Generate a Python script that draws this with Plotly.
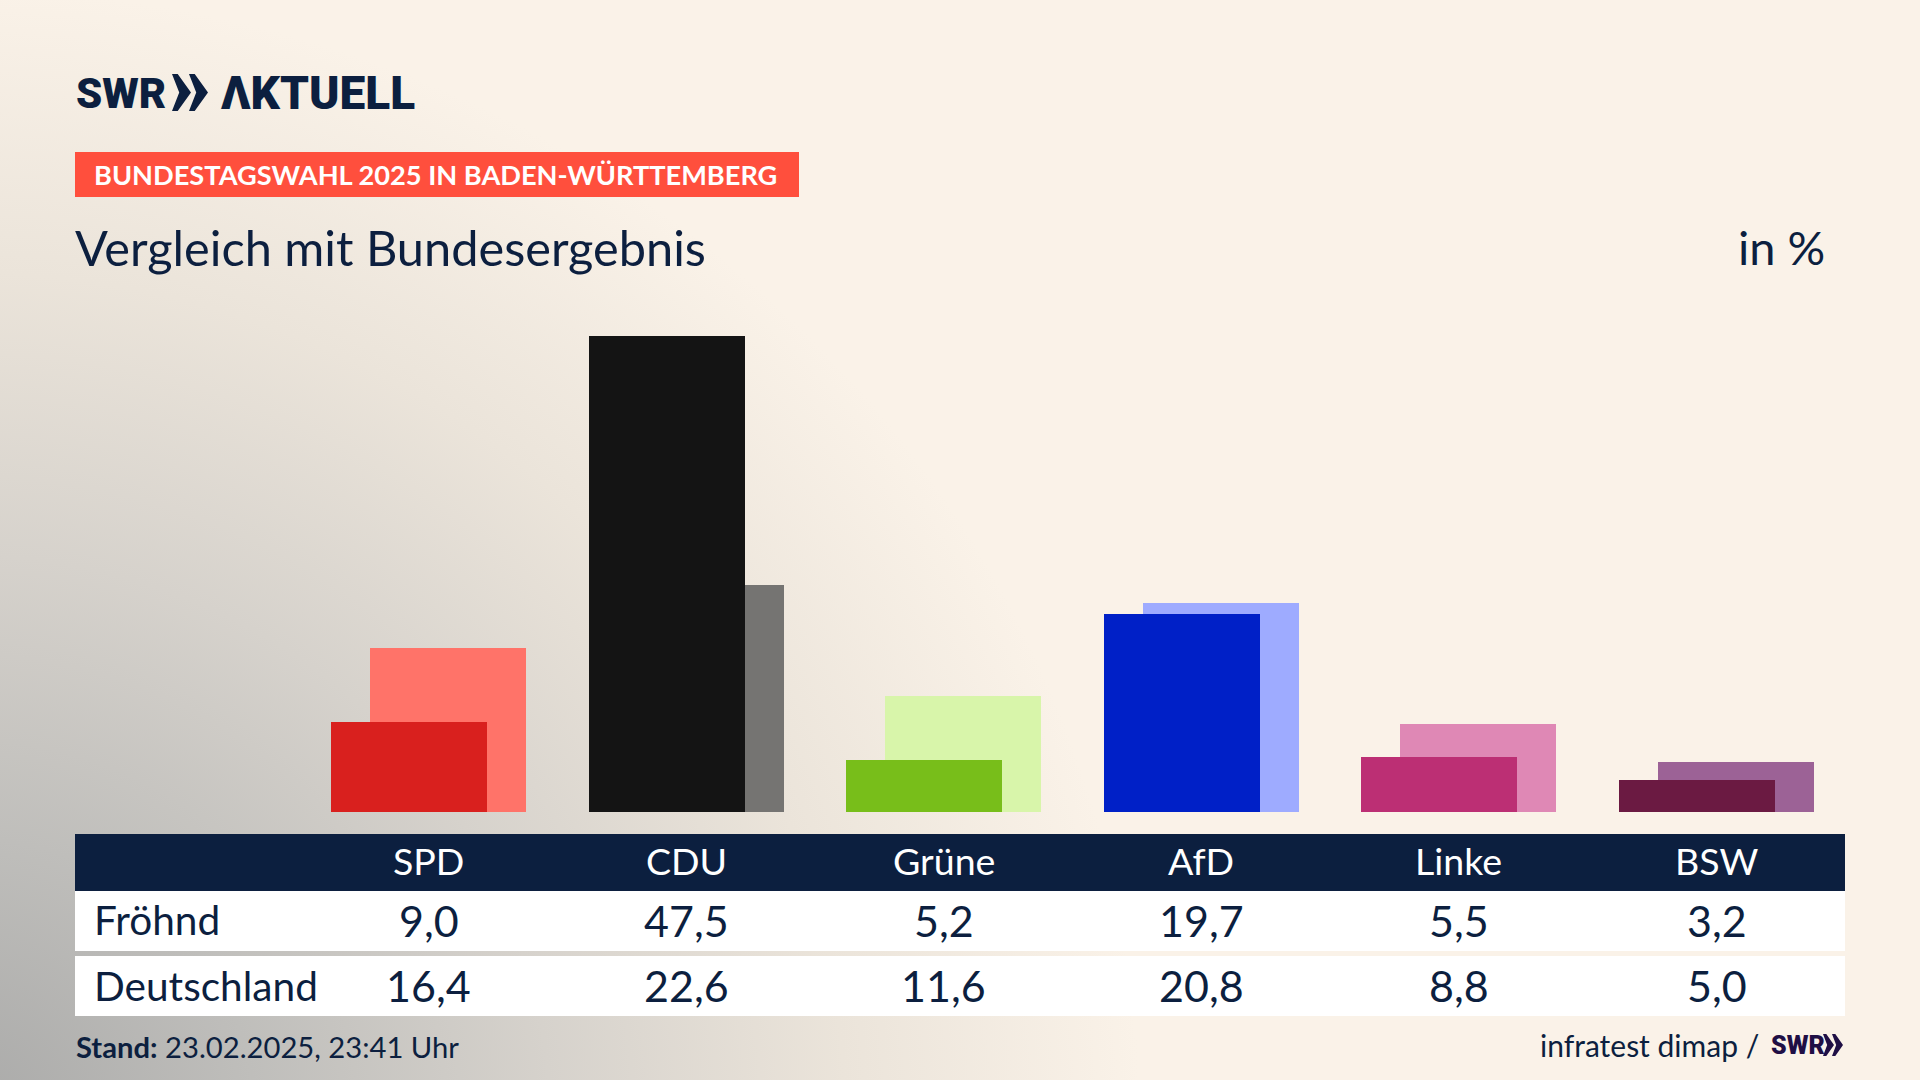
import base64
import plotly.graph_objects as go

# ---- data ----
parties = ["SPD", "CDU", "Grüne", "AfD", "Linke", "BSW"]
froehnd = [9.0, 47.5, 5.2, 19.7, 5.5, 3.2]
deutschland = [16.4, 22.6, 11.6, 20.8, 8.8, 5.0]
dark_colors = ["#D9201E", "#141414", "#78BE1A", "#0020C7", "#BC2F74", "#6B1A42"]
light_colors = ["#FF7369", "#757472", "#D8F5AA", "#9EABFF", "#DF88B5", "#9C6296"]
row_labels = ["Fröhnd", "Deutschland"]

W, H = 1920, 1080
NAVY = "#0C1F3F"
FONT = "Lato"
LOGO = "Roboto"

# pixel helpers for the frame of the page
def px(x): return x / W
def py(y): return 1 - y / H

# axis scale
X0, STEP = 428.5, 257.6          # px of first category, px per category
Y0, UNIT = 812, 10.03            # px of value 0, px per percent
BAR, SHIFT = 156 / STEP, 19.5 / STEP

svg = f'''<svg xmlns="http://www.w3.org/2000/svg" width="{W}" height="{H}">
<defs><radialGradient id="g" gradientUnits="userSpaceOnUse" cx="0" cy="0" r="1"
 gradientTransform="translate(-40 1120) scale(1180 1130)">
<stop offset="0" stop-color="#A9A9A8"/>
<stop offset="0.25" stop-color="#BFBEBB"/>
<stop offset="0.5" stop-color="#D6D2CC"/>
<stop offset="0.75" stop-color="#EBE4DA"/>
<stop offset="1" stop-color="#FAF2E8"/>
</radialGradient></defs>
<rect width="{W}" height="{H}" fill="#FAF2E8"/>
<rect width="{W}" height="{H}" fill="url(#g)"/>
</svg>'''
bg = "data:image/svg+xml;base64," + base64.b64encode(svg.encode()).decode()

fig = go.Figure()
fig.add_bar(x=parties, y=deutschland, name="Deutschland", width=BAR,
            offset=-BAR / 2 + SHIFT, marker=dict(color=light_colors, line_width=0))
fig.add_bar(x=parties, y=froehnd, name="Fröhnd", width=BAR,
            offset=-BAR / 2 - SHIFT, marker=dict(color=dark_colors, line_width=0))

shapes = []
def rect(x0, y0, x1, y1, color):
    shapes.append(dict(type="rect", xref="paper", yref="paper", x0=px(x0), x1=px(x1),
                       y0=py(y0), y1=py(y1), fillcolor=color, line_width=0, layer="below"))
rect(75, 152, 799, 197, "#FF4F3D")
rect(75, 834, 1845, 891, NAVY)
rect(75, 891, 1845, 951, "#FFFFFF")
rect(75, 956, 1845, 1016, "#FFFFFF")

def chevrons(x, top, bottom, w, gap, color):
    mid = (top + bottom) / 2
    for i in range(2):
        a = x + i * gap
        pts = [(a, top), (a + w * .3, top), (a + w, mid), (a + w * .3, bottom), (a, bottom), (a + w * .38, mid)]
        path = "M " + " L ".join(f"{px(p)} {py(q)}" for p, q in pts) + " Z"
        shapes.append(dict(type="path", xref="paper", yref="paper", path=path,
                           fillcolor=color, line_width=0))
chevrons(172, 74, 111, 19, 17, NAVY)
chevrons(1823, 1034, 1056, 11, 9, "#1F0F45")

ann = []
def text(s, x, y, size, anchor="left", color=NAVY, xref="paper", family=FONT, weight=None):
    font = dict(family=family, size=size, color=color)
    if weight:
        font["weight"] = weight
    ann.append(dict(text=s, x=(px(x) if xref == "paper" else x), y=py(y), xref=xref, yref="paper",
                    xanchor=anchor, yanchor="middle", showarrow=False, align=anchor, font=font))

text("SWR", 74, 93, 42, family=LOGO, weight=900)
text("ΛKTUELL", 219, 93, 46, family=LOGO, weight=900)
text("<b>BUNDESTAGSWAHL 2025 IN BADEN-WÜRTTEMBERG</b>", 92, 175, 27.2, color="#FFFFFF")
text("Vergleich mit Bundesergebnis", 73, 247, 48.7)
text("in %", 1827, 247, 47, anchor="right")

for p in parties:
    text(p, p, 860.5, 37.5, anchor="center", color="#FFFFFF", xref="x")
for label, vals, y in zip(row_labels, [froehnd, deutschland], [919.5, 985]):
    text(label, 91.5, y, 40.6)
    for p, v in zip(parties, vals):
        text(f"{v:.1f}".replace(".", ","), p, y + 0.5, 43, anchor="center", xref="x")

text("<b>Stand:</b> 23.02.2025, 23:41 Uhr", 74, 1046, 29.2)
text("infratest dimap /", 1761, 1045, 30, anchor="right")
text("SWR", 1769, 1045, 25, color="#1F0F45", family=LOGO, weight=900)

fig.update_layout(
    width=W, height=H, autosize=False, margin=dict(l=0, r=0, t=0, b=0, pad=0),
    paper_bgcolor="rgba(0,0,0,0)", plot_bgcolor="rgba(0,0,0,0)",
    barmode="overlay", showlegend=False, bargap=0,
    xaxis=dict(type="category", categoryorder="array", categoryarray=parties,
               range=[-X0 / STEP, (W - X0) / STEP], domain=[0, 1], visible=False, fixedrange=True),
    yaxis=dict(range=[-(H - Y0) / UNIT, Y0 / UNIT], domain=[0, 1], visible=False, fixedrange=True),
    shapes=shapes, annotations=ann,
    images=[dict(source=bg, xref="paper", yref="paper", x=0, y=1, sizex=1, sizey=1,
                 xanchor="left", yanchor="top", sizing="stretch", layer="below")],
)
fig.write_html("out.html", config=dict(displayModeBar=False),
               post_script="document.body.style.margin='0';")
